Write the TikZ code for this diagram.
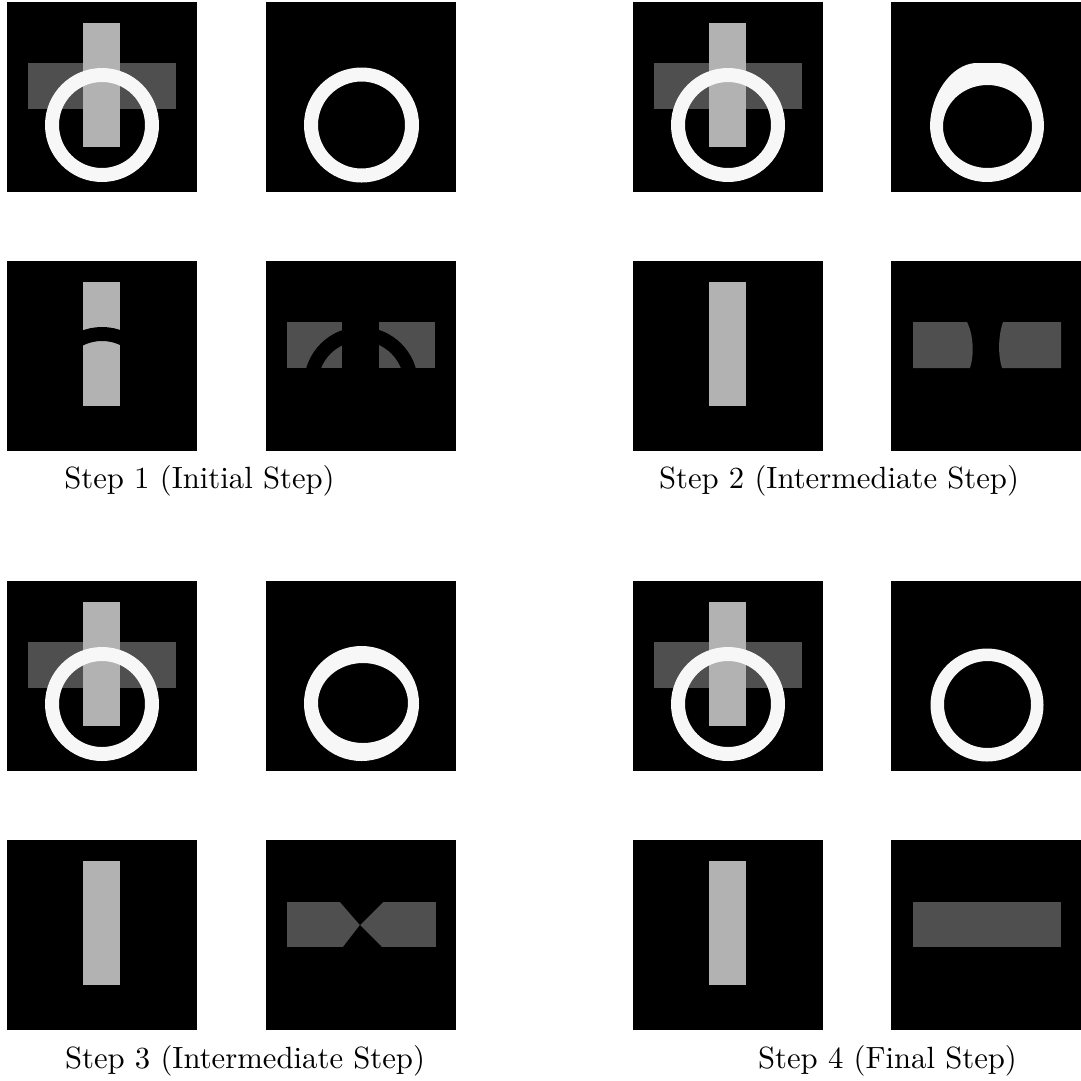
\documentclass[tikz,border=0pt]{standalone}
\definecolor{vbargray}{gray}{0.70}
\definecolor{hbargray}{gray}{0.31}
\definecolor{ringwhite}{gray}{0.97}

\begin{document}
\begin{tikzpicture}[x=1pt,y=-1pt,
  frame/.style={fill=black},
  vbar/.style={fill=vbargray},
  hbar/.style={fill=hbargray},
  ring/.style={fill=ringwhite, even odd rule},
  cutout/.style={fill=black, even odd rule},
  steplabel/.style={anchor=base, inner sep=0pt, font=\fontsize{10}{12}\selectfont, scale=3.07, transform shape}]
\useasboundingbox (0,0) rectangle (1081,1080);
% black frames
\foreach \ox/\oy in {7/2, 266/2, 7/261, 266/261, 633/2, 891/2, 633/261, 891/261,
                     7/581, 266/581, 7/840, 266/840, 633/581, 891/581, 633/840, 891/840}
  \fill[frame, shift={(\ox,\oy)}] (0,0) rectangle (190,190);
% input frames: cross with ring on top
\foreach \ox/\oy in {7/2, 633/2, 7/581, 633/581} {
  \begin{scope}[shift={(\ox,\oy)}]
  \fill[hbar] (21,61) rectangle (169,107);
  \fill[vbar] (76,21) rectangle (113,145);
  \fill[ring] (95,123) circle (57) (95,123) circle (43);
  \end{scope}
}
% vertical bar layers (steps 2-4)
\foreach \ox/\oy in {633/261, 7/840, 633/840}
  \fill[vbar, shift={(\ox,\oy)}] (76,21) rectangle (113,145);

% step 1
\begin{scope}[shift={(266,2)}]
\fill[ring] (95.5,123) circle (57.5) (95.5,123) circle (43.5);
\end{scope}
\begin{scope}[shift={(7,261)}]
\fill[vbar] (76,21) rectangle (113,145);
\fill[cutout] (95,123) circle (57) (95,123) circle (43);
\end{scope}
\begin{scope}[shift={(266,261)}]
\fill[hbar] (21,61) rectangle (169,107);
\fill[black] (76,21) rectangle (113,145);
\fill[cutout] (95,123) circle (57) (95,123) circle (43);
\end{scope}

% step 2
\begin{scope}[shift={(891,2)}]
\fill[ring] (39,123) arc[start angle=180, end angle=0, radius=57]
  .. controls (152,92) and (132,63) .. (108,61) -- (84,61)
  .. controls (60,63) and (40,92) .. (39,123) -- cycle
  (96.5,124.5) ellipse [x radius=44.5, y radius=41.5];
\end{scope}
\begin{scope}[shift={(891,261)}]
\fill[hbar] (22,61) -- (76,61) .. controls (83,75) and (83,95) .. (79,107) -- (22,107) -- cycle;
\fill[hbar] (112,61) .. controls (107,75) and (107,95) .. (111,107) -- (170,107) -- (170,61) -- cycle;
\end{scope}

% step 3
\begin{scope}[shift={(266,581)}]
\fill[ring] (95.5,122.5) circle (57.5) (97,122) ellipse [x radius=45, y radius=40];
\end{scope}
\begin{scope}[shift={(266,840)}]
\fill[hbar] (21,62) rectangle (170,107);
\fill[black] (74,62) -- (94,85) -- (117,62) -- cycle;
\fill[black] (77,107) -- (94,85) -- (116,107) -- cycle;
\end{scope}

% step 4
\begin{scope}[shift={(891,581)}]
\fill[ring] (96,124) circle (56.5) (96.5,123.5) circle (43.5);
\end{scope}
\begin{scope}[shift={(891,840)}]
\fill[hbar] (22,62) rectangle (170,107);
\end{scope}

\node[steplabel] (step1) at (199.5,488) {Step 1 (Initial Step)};
\node[steplabel] (step2) at (839,488) {Step 2 (Intermediate Step)};
\node[steplabel] (step3) at (245,1068) {Step 3 (Intermediate Step)};
\node[steplabel] (step4) at (887.5,1068) {Step 4 (Final Step)};
\end{tikzpicture}
\end{document}
